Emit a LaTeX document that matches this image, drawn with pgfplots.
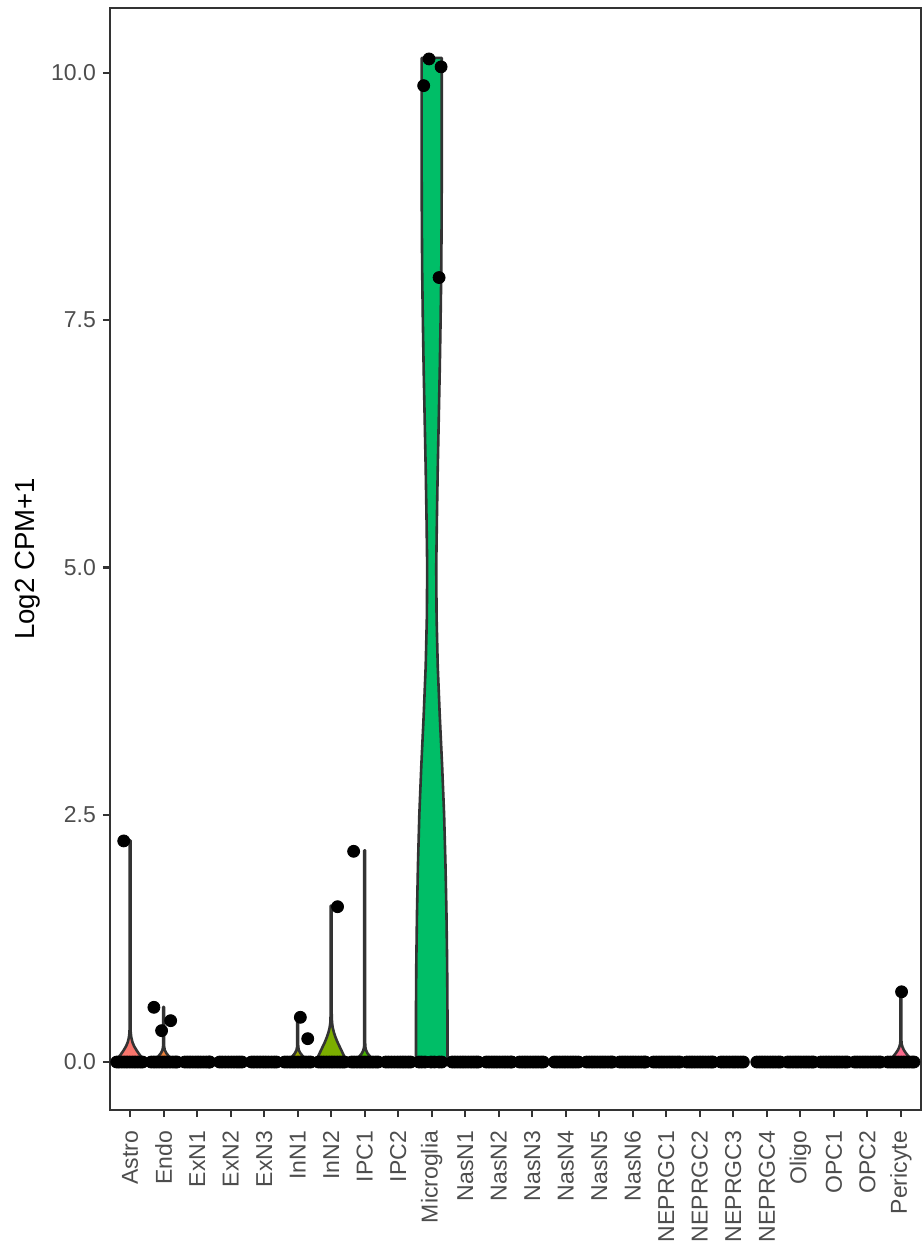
\documentclass[border=0pt]{standalone}
\usepackage{fontspec}
\setmainfont{Liberation Sans}
\usepackage{pgfplots}
\pgfplotsset{compat=1.18}

\definecolor{axisgray}{HTML}{333333}
\definecolor{tickgray}{HTML}{4D4D4D}
\definecolor{cAstro}{HTML}{F8766D}
\definecolor{cEndo}{HTML}{EC823C}
\definecolor{cInNa}{HTML}{9DA700}
\definecolor{cInNb}{HTML}{7CAE00}
\definecolor{cIPC}{HTML}{49B500}
\definecolor{cMicro}{HTML}{00BE67}
\definecolor{cPeri}{HTML}{FB6A8C}

\begin{document}
\begin{tikzpicture}
% 1px of the reference = 0.5pt
\useasboundingbox (-55pt,-66.5pt) rectangle (406.5pt,555pt);
\begin{axis}[
    at={(0,0)}, anchor=south west,
    scale only axis,
    width=405.5pt, height=551pt,
    xmin=-0.6, xmax=23.6,
    ymin=-0.485, ymax=10.655,
    xtick={0,...,23},
    xticklabels={Astro,Endo,ExN1,ExN2,ExN3,InN1,InN2,IPC1,IPC2,Microglia,NasN1,NasN2,NasN3,NasN4,NasN5,NasN6,NEPRGC1,NEPRGC2,NEPRGC3,NEPRGC4,Oligo,OPC1,OPC2,Pericyte},
    ytick={0,2.5,5,7.5,10},
    yticklabel style={/pgf/number format/.cd, fixed, fixed zerofill, precision=1},
    /pgf/number format/assume math mode=true,
    xtick pos=lower, ytick pos=left,
    tick align=outside,
    major tick length=3.5pt,
    tick style={axisgray, line width=1.1pt},
    axis line style={axisgray, line width=1.1pt},
    ticklabel style={font=\fontsize{11.5}{13}\selectfont, text=tickgray},
    xticklabel style={rotate=90, anchor=east, xshift=-3.5pt},
    ylabel={Log2 CPM+1},
    ylabel style={font=\fontsize{13.8}{16}\selectfont, at={(axis description cs:-0.0925,0.5)}, anchor=base},
    clip=false,
]
% violins: right side upwards, left side downwards
\addplot[fill=cAstro, draw=axisgray, line width=1.3pt, line join=round] coordinates {
    (0.45,0)(0.36,0.04)(0.27,0.08)(0.19,0.12)(0.12,0.16)(0.07,0.2)(0.035,0.25)(0.018,0.3)(0.012,0.4)(0.012,2.24)
    (-0.012,2.24)(-0.012,0.4)(-0.018,0.3)(-0.035,0.25)(-0.07,0.2)(-0.12,0.16)(-0.19,0.12)(-0.27,0.08)(-0.36,0.04)(-0.45,0)(0.45,0)
};
\addplot[fill=cEndo, draw=axisgray, line width=1.3pt, line join=round] coordinates {
    (1.35,0)(1.25,0.03)(1.15,0.06)(1.08,0.09)(1.035,0.12)(1.018,0.15)(1.012,0.2)(1.012,0.556)
    (0.988,0.556)(0.988,0.2)(0.982,0.15)(0.965,0.12)(0.92,0.09)(0.85,0.06)(0.75,0.03)(0.65,0)(1.35,0)
};
\addplot[fill=cInNa, draw=axisgray, line width=1.3pt, line join=round] coordinates {
    (5.36,0)(5.25,0.03)(5.15,0.06)(5.08,0.09)(5.035,0.12)(5.018,0.15)(5.012,0.2)(5.012,0.48)
    (4.988,0.48)(4.988,0.2)(4.982,0.15)(4.965,0.12)(4.92,0.09)(4.85,0.06)(4.75,0.03)(4.64,0)(5.36,0)
};
\addplot[fill=cInNb, draw=axisgray, line width=1.3pt, line join=round] coordinates {
    (6.45,0)(6.4,0.05)(6.33,0.1)(6.26,0.15)(6.19,0.2)(6.13,0.25)(6.08,0.3)(6.045,0.35)(6.025,0.4)(6.014,0.5)(6.012,1.58)
    (5.988,1.58)(5.986,0.5)(5.975,0.4)(5.955,0.35)(5.92,0.3)(5.87,0.25)(5.81,0.2)(5.74,0.15)(5.67,0.1)(5.6,0.05)(5.55,0)(6.45,0)
};
\addplot[fill=cIPC, draw=axisgray, line width=1.3pt, line join=round] coordinates {
    (7.34,0)(7.24,0.03)(7.15,0.06)(7.08,0.09)(7.04,0.12)(7.02,0.15)(7.013,0.2)(7.012,2.14)
    (6.988,2.14)(6.987,0.2)(6.98,0.15)(6.96,0.12)(6.92,0.09)(6.85,0.06)(6.76,0.03)(6.66,0)(7.34,0)
};
\addplot[fill=cMicro, draw=axisgray, line width=1.3pt, line join=round] coordinates {
    (9.47,0)(9.47,0.5)(9.46,1)(9.44,1.5)(9.41,2)(9.37,2.5)(9.31,3)(9.24,3.5)(9.18,4)(9.145,4.5)(9.135,5)(9.155,5.5)(9.18,6)(9.21,6.5)(9.24,7)(9.265,7.5)(9.285,8)(9.295,8.5)(9.3,9)(9.3,9.5)(9.3,10)(9.3,10.15)
    (8.7,10.15)(8.7,10)(8.7,9.5)(8.7,9)(8.705,8.5)(8.715,8)(8.735,7.5)(8.76,7)(8.79,6.5)(8.82,6)(8.845,5.5)(8.865,5)(8.855,4.5)(8.82,4)(8.76,3.5)(8.69,3)(8.63,2.5)(8.59,2)(8.56,1.5)(8.54,1)(8.53,0.5)(8.53,0)(9.47,0)
};
\addplot[fill=cPeri, draw=axisgray, line width=1.3pt, line join=round] coordinates {
    (23.38,0)(23.3,0.03)(23.22,0.06)(23.15,0.09)(23.09,0.12)(23.05,0.15)(23.025,0.18)(23.014,0.22)(23.012,0.3)(23.012,0.71)
    (22.988,0.71)(22.988,0.3)(22.986,0.22)(22.975,0.18)(22.95,0.15)(22.91,0.12)(22.85,0.09)(22.78,0.06)(22.7,0.03)(22.62,0)(23.38,0)
};
% jittered cells
\addplot[only marks, mark=*, mark size=3pt, black] coordinates {
    (-0.19,2.235)(0.71,0.553)(0.94,0.317)(1.21,0.418)(5.08,0.452)(5.3,0.236)(6.19,1.57)(6.67,2.13)
    (8.76,9.87)(8.92,10.14)(9.28,10.06)(9.22,7.93)(23.02,0.71)
};
\addplot[only marks, mark=*, mark size=3pt, black] coordinates {
    (-0.4,0)(-0.33,0)(-0.25,0)(-0.17,0)(-0.09,0)(-0.01,0)(0.07,0)(0.15,0)(0.23,0)(0.31,0)(0.37,0)
    (0.63,0)(0.71,0)(0.79,0)(0.87,0)(0.95,0)(1.03,0)(1.11,0)(1.19,0)(1.27,0)(1.35,0)(1.4,0)
    (1.63,0)(1.71,0)(1.79,0)(1.87,0)(1.95,0)(2.03,0)(2.11,0)(2.19,0)(2.27,0)(2.35,0)(2.38,0)
    (2.67,0)(2.75,0)(2.84,0)(2.93,0)(3.02,0)(3.1,0)(3.18,0)(3.26,0)(3.34,0)
    (3.62,0)(3.7,0)(3.79,0)(3.88,0)(3.97,0)(4.05,0)(4.13,0)(4.22,0)(4.3,0)(4.37,0)
    (4.61,0)(4.69,0)(4.77,0)(4.85,0)(4.93,0)(5.01,0)(5.09,0)(5.17,0)(5.25,0)(5.33,0)(5.39,0)
    (5.62,0)(5.7,0)(5.78,0)(5.86,0)(5.94,0)(6.02,0)(6.1,0)(6.18,0)(6.26,0)(6.34,0)(6.4,0)
    (6.61,0)(6.69,0)(6.77,0)(6.85,0)(6.93,0)(7.01,0)(7.09,0)(7.17,0)(7.25,0)(7.33,0)(7.4,0)
    (7.63,0)(7.71,0)(7.8,0)(7.89,0)(7.98,0)(8.06,0)(8.14,0)(8.22,0)(8.3,0)(8.37,0)
    (8.62,0)(8.7,0)(8.8,0)(8.98,0)(9.08,0)(9.22,0)(9.3,0)
    (9.61,0)(9.69,0)(9.77,0)(9.85,0)(9.93,0)(10.01,0)(10.09,0)(10.17,0)(10.25,0)(10.33,0)(10.39,0)
    (10.63,0)(10.71,0)(10.79,0)(10.87,0)(10.95,0)(11.03,0)(11.11,0)(11.19,0)(11.27,0)(11.35,0)(11.39,0)
    (11.62,0)(11.7,0)(11.78,0)(11.86,0)(11.94,0)(12.02,0)(12.1,0)(12.18,0)(12.26,0)(12.33,0)
    (12.66,0)(12.74,0)(12.82,0)(12.9,0)(12.98,0)(13.06,0)(13.14,0)(13.22,0)(13.3,0)(13.38,0)
    (13.62,0)(13.7,0)(13.78,0)(13.86,0)(13.94,0)(14.02,0)(14.1,0)(14.18,0)(14.26,0)(14.34,0)(14.39,0)
    (14.61,0)(14.69,0)(14.77,0)(14.85,0)(14.93,0)(15.01,0)(15.09,0)(15.17,0)(15.25,0)(15.33,0)(15.38,0)
    (15.62,0)(15.7,0)(15.78,0)(15.86,0)(15.94,0)(16.02,0)(16.1,0)(16.18,0)(16.26,0)(16.34,0)(16.4,0)
    (16.61,0)(16.69,0)(16.77,0)(16.85,0)(16.93,0)(17.01,0)(17.09,0)(17.17,0)(17.25,0)(17.33,0)(17.39,0)
    (17.63,0)(17.71,0)(17.8,0)(17.89,0)(17.98,0)(18.06,0)(18.14,0)(18.22,0)(18.3,0)
    (18.7,0)(18.78,0)(18.86,0)(18.94,0)(19.02,0)(19.1,0)(19.18,0)(19.26,0)(19.34,0)(19.4,0)
    (19.62,0)(19.7,0)(19.78,0)(19.86,0)(19.94,0)(20.02,0)(20.1,0)(20.18,0)(20.26,0)(20.34,0)(20.39,0)
    (20.61,0)(20.69,0)(20.77,0)(20.85,0)(20.93,0)(21.01,0)(21.09,0)(21.17,0)(21.25,0)(21.33,0)(21.4,0)
    (21.62,0)(21.7,0)(21.78,0)(21.86,0)(21.94,0)(22.02,0)(22.1,0)(22.18,0)(22.26,0)(22.34,0)(22.39,0)
    (22.61,0)(22.69,0)(22.77,0)(22.85,0)(22.93,0)(23.01,0)(23.09,0)(23.17,0)(23.25,0)(23.33,0)(23.39,0)
};
\end{axis}
\end{tikzpicture}
\end{document}
